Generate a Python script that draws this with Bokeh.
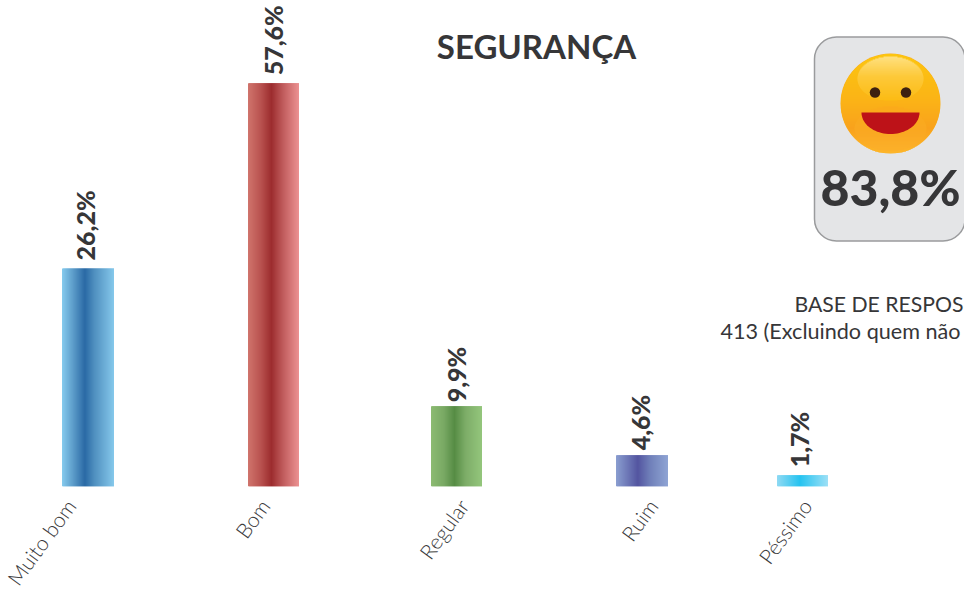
import math
from bokeh.plotting import figure
from bokeh.models import Range1d, BoxAnnotation, FixedTicker
from bokeh.core.properties import value
from bokeh.embed import file_html
from bokeh.resources import INLINE

categories = ["Muito bom", "Bom", "Regular", "Ruim", "Péssimo"]
value_labels = ["26,2%", "57,6%", "9,9%", "4,6%", "1,7%"]
# heights as drawn in the picture (the reference's bars are not strictly proportional)
bar_heights = [31.15, 57.6, 11.45, 4.45, 1.6]

title_text = "SEGURANÇA"
score_text = "83,8%"
base_line1 = "BASE DE RESPOS"
base_line2 = "413 (Excluindo quem não"

# layout
W, H, BASE, PX_PER_UNIT = 964, 590, 486, 7.0
bar_left = [61.5, 247.5, 430.5, 615.5, 776.5]
bar_width = [52, 51, 51, 52, 51]
label_x = [84, 272, 455, 639, 798]
label_gap = [8, 8, 4, 5, 8]
tick_x = [70, 264, 463, 652, 806]
gradients = [
    [(0, "#86cbee"), (0.2, "#5f9fcc"), (0.44, "#2a69a5"), (0.62, "#4f8fbf"), (1, "#85c8eb")],
    [(0, "#d0746c"), (0.25, "#b9524f"), (0.46, "#9c2c2e"), (0.68, "#bf5a5b"), (1, "#ec9292")],
    [(0, "#8cbb72"), (0.25, "#79a964"), (0.46, "#568c44"), (0.68, "#7dad68"), (1, "#94c67c")],
    [(0, "#8a9ed0"), (0.42, "#5355a0"), (0.65, "#6f7fb9"), (1, "#8fa4d4")],
    [(0, "#8fdaf3"), (0.45, "#25c3f0"), (1, "#9de0f6")],
]
INK = "#363638"
BOLD = value("Lato")


def hex2rgb(h):
    return tuple(int(h[i:i + 2], 16) for i in (1, 3, 5))


def ramp(stops, t):
    for (a, ca), (b, cb) in zip(stops, stops[1:]):
        if t <= b:
            f = (t - a) / (b - a)
            r = [round(x + (y - x) * f) for x, y in zip(hex2rgb(ca), hex2rgb(cb))]
            return "#%02x%02x%02x" % tuple(r)
    return stops[-1][1]


p = figure(
    width=W, height=H, frame_width=W, frame_height=BASE,
    x_range=Range1d(0, W), y_range=Range1d(0, BASE / PX_PER_UNIT),
    output_backend="svg", toolbar_location=None, tools="",
    min_border_left=0, min_border_right=0, min_border_top=0, min_border_bottom=H - BASE,
    outline_line_color=None, background_fill_color="white", border_fill_color="white",
    x_axis_location="below", y_axis_location=None,
)
p.grid.visible = False
p.extra_y_ranges = {"px": Range1d(BASE, 0)}

ax = p.xaxis[0]
ax.ticker = FixedTicker(ticks=tick_x)
ax.major_label_overrides = {x: c for x, c in zip(tick_x, categories)}
ax.major_label_orientation = math.radians(54)
ax.major_label_text_font = "Lato Light"
ax.major_label_text_font_size = "21px"
ax.major_label_text_color = "#3a3a3c"
ax.major_label_standoff = 9
ax.axis_line_color = None
ax.major_tick_line_color = None
ax.minor_tick_line_color = None

# bars: overlapping strips for the horizontal sheen
for left, w, h, stops in zip(bar_left, bar_width, bar_heights, gradients):
    p.quad(left=[left + i for i in range(w)],
           right=[left + min(i + 2, w) for i in range(w)],
           bottom=0, top=h, fill_color=[ramp(stops, (i + 0.5) / w) for i in range(w)],
           line_color=None)

# value labels
for x, h, gap, t in zip(label_x, bar_heights, label_gap, value_labels):
    p.text(x=[x], y=[h + gap / PX_PER_UNIT], text=[t], angle=math.pi / 2,
           text_font=value("Lato Black"), text_font_size="25px",
           text_color=INK, text_align="left", text_baseline="middle")

# title
p.text(x=[536], y=[45], text=[title_text], y_range_name="px", text_font=BOLD,
       text_font_style="bold", text_font_size="33px", text_color=INK,
       text_align="center", text_baseline="alphabetic")

# score card
card = BoxAnnotation(left=814, right=964.5, top=36.5, bottom=240.5, y_range_name="px",
                     fill_color="#e4e5e7", fill_alpha=1, line_color="#9a9b9d", line_alpha=1,
                     line_width=1.5, border_radius=22, level="underlay")
p.add_layout(card)

# emoji
CX, CY, R = 890, 103, 50
face = [(0, "#fcc50f"), (0.45, "#fbb416"), (0.75, "#f9a21c"), (1, "#fdb52a")]
p.scatter(x=[CX], y=[CY], size=2 * R, marker="circle", y_range_name="px",
          fill_color="#fbb018", line_color=None)


def strips(cx, cy, rx, ry, stops):
    top, bot, l, r, col = [], [], [], [], []
    n = int(2 * ry)
    for i in range(n):
        y0 = cy - ry + i
        dy = (y0 + 0.5 - cy) / ry
        hw = rx * math.sqrt(max(0, 1 - dy * dy))
        top.append(y0)
        bot.append(y0 + 1.6 if i < n - 1 else y0 + 1)
        l.append(cx - hw)
        r.append(cx + hw)
        col.append(ramp(stops, (i + 0.5) / n))
    p.quad(left=l, right=r, top=top, bottom=bot, fill_color=col, line_color=None, y_range_name="px")


strips(CX, CY, R - 0.5, R - 0.5, face)
strips(CX, CY - 25, 33, 22, [(0, "#fee080"), (0.45, "#fdc93a"), (1, "#fcbb14")])
strips(CX, CY + 25, 36, 22, [(0, "#fbaa1a"), (0.6, "#faa822"), (1, "#fcb02a")])
p.scatter(x=[CX - 15.5, CX + 15.5], y=[92, 92], size=10.5, marker="circle", y_range_name="px",
          fill_color="#3d2110", line_color=None)
arc = [math.pi * k / 40 for k in range(41)]
p.patch(x=[CX + 29 * math.cos(a) for a in arc], y=[112 + 21.5 * math.sin(a) for a in arc],
        y_range_name="px", fill_color="#bd1218", line_color=None)

p.text(x=[890], y=[186], text=[score_text], y_range_name="px", text_font=value("Lato Black"),
       text_font_size="50px", text_color=INK,
       text_align="center", text_baseline="alphabetic")

# response base
p.text(x=[794], y=[303], text=[base_line1], y_range_name="px", text_font=value("Lato"),
       text_font_size="21.2px", text_color=INK, text_align="left", text_baseline="alphabetic")
p.text(x=[720], y=[330], text=[base_line2], y_range_name="px", text_font=value("Lato"),
       text_font_size="21.6px", text_color=INK, text_align="left", text_baseline="alphabetic")

open("out.html", "w").write(file_html(p, INLINE))
